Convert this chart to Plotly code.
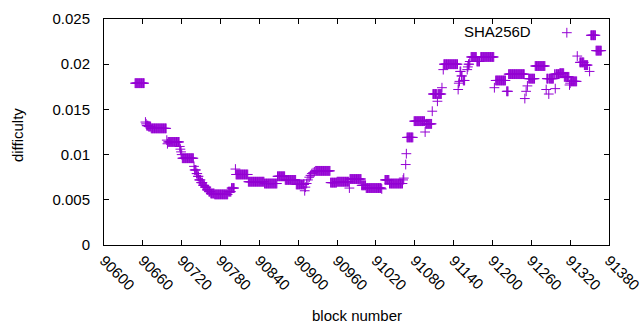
import plotly.graph_objects as go

# Runs of consecutive blocks sharing one difficulty value
run_start = [90648, 90664, 90665, 90666, 90669, 90673, 90697, 90698, 90699,
             90717, 90718, 90719, 90720, 90721, 90739, 90740, 90743, 90745,
             90747, 90750, 90753, 90756, 90759, 90762, 90765, 90771, 90792,
             90797, 90803, 90804, 90823, 90848, 90868, 90880, 90897, 90910,
             90911, 90913, 90915, 90917, 90919, 90921, 90923, 90925, 90927,
             90950, 90960, 90979, 90980, 90998, 91005, 91029, 91034, 91041,
             91062, 91063, 91066, 91067, 91068, 91079, 91096, 91097, 91107,
             91108, 91115, 91116, 91122, 91124, 91125, 91147, 91148, 91149,
             91150, 91152, 91155, 91161, 91162, 91163, 91165, 91167, 91176,
             91182, 91203, 91205, 91222, 91225, 91250, 91252, 91254, 91256,
             91266, 91283, 91284, 91287, 91288, 91296, 91297, 91298, 91304,
             91311, 91319, 91320, 91321, 91331, 91335, 91342, 91350, 91352,
             91360]
run_end = [90662, 90664, 90665, 90668, 90672, 90696, 90697, 90698, 90716,
           90717, 90718, 90719, 90720, 90738, 90739, 90742, 90744, 90746,
           90749, 90752, 90755, 90758, 90761, 90764, 90770, 90791, 90796,
           90801, 90803, 90822, 90847, 90867, 90879, 90896, 90909, 90910,
           90911, 90913, 90915, 90917, 90919, 90921, 90923, 90925, 90949,
           90959, 90978, 90979, 90997, 91004, 91028, 91029, 91040, 91061,
           91062, 91063, 91066, 91067, 91077, 91095, 91096, 91106, 91107,
           91114, 91115, 91121, 91122, 91124, 91146, 91147, 91148, 91149,
           91151, 91153, 91157, 91161, 91162, 91164, 91165, 91175, 91180,
           91202, 91203, 91220, 91224, 91249, 91250, 91252, 91254, 91265,
           91281, 91283, 91286, 91287, 91294, 91296, 91297, 91303, 91310,
           91318, 91319, 91320, 91330, 91331, 91341, 91347, 91350, 91359,
           91368]
run_diff = [0.0179, 0.0136, 0.0134, 0.0132, 0.0131, 0.0129, 0.0116, 0.0112, 0.0114,
            0.0109, 0.0106, 0.0103, 0.0100, 0.0096, 0.0087, 0.0083, 0.0079, 0.0076,
            0.0072, 0.0069, 0.0066, 0.0064, 0.0061, 0.0059, 0.0057, 0.0056, 0.0059,
            0.0063, 0.0084, 0.0078, 0.0070, 0.0068, 0.0076, 0.0072, 0.0067, 0.0060,
            0.0064, 0.0068, 0.0072, 0.0075, 0.0077, 0.0079, 0.0080, 0.0081, 0.0082,
            0.0069, 0.0070, 0.0063, 0.0073, 0.0066, 0.0063, 0.0062, 0.0072, 0.0068,
            0.0072, 0.0074, 0.0089, 0.0101, 0.0119, 0.0137, 0.0125, 0.0134, 0.0148,
            0.0167, 0.0159, 0.0167, 0.0174, 0.0194, 0.0200, 0.0172, 0.0179, 0.0181,
            0.0192, 0.0187, 0.0182, 0.0194, 0.0197, 0.0200, 0.0203, 0.0208, 0.0203,
            0.0208, 0.0174, 0.0182, 0.0170, 0.0189, 0.0162, 0.0170, 0.0176, 0.0184,
            0.0198, 0.0172, 0.0184, 0.0167, 0.0184, 0.0189, 0.0173, 0.0189, 0.0190,
            0.0186, 0.0177, 0.0179, 0.0181, 0.0209, 0.0202, 0.0199, 0.0192, 0.0232,
            0.0215]

x_ticks = list(range(90600, 91381, 60))
x_tick_labels = [str(v) for v in x_ticks]
y_ticks = [0, 0.005, 0.01, 0.015, 0.02, 0.025]
y_tick_labels = ["0", "0.005", "0.01", "0.015", "0.02", "0.025"]
series_name = "SHA256D"

blocks, diffs = [], []
for s, e, d in zip(run_start, run_end, run_diff):
    for b in range(s, e + 1):
        blocks.append(b)
        diffs.append(d)

COLOR = "#9400d3"
FONT = "Liberation Sans, Arial, sans-serif"
FS = 15

L, R, T, B = 104, 30.5, 19, 85
PW, PH = 640 - L - R, 330 - T - B

def px(xp):
    return (xp - L) / PW

def py(yp):
    return (330 - B - yp) / PH

marker = dict(symbol="cross-thin", size=7, color=COLOR,
              line=dict(color=COLOR, width=1))

fig = go.Figure()
fig.add_trace(go.Scatter(x=blocks, y=diffs, mode="markers", marker=marker,
                         name=series_name, showlegend=False))
# key sample (gnuplot style: text then symbol)
fig.add_trace(go.Scatter(x=[px(567.3)], y=[py(32.7)], mode="markers", marker=marker,
                         xaxis="x2", yaxis="y2", showlegend=False, hoverinfo="skip"))

fig.update_layout(
    width=640, height=330, autosize=False,
    margin=dict(l=L, r=R, t=T, b=B, pad=0),
    paper_bgcolor="white", plot_bgcolor="white",
    font=dict(family=FONT, size=FS, color="black"),
    showlegend=False,
    xaxis=dict(range=[90600, 91380], tickvals=x_ticks, ticktext=x_tick_labels,
               tickangle=45, ticks="inside", ticklen=5, tickcolor="black",
               showline=True, linecolor="black", linewidth=1, mirror="ticks",
               showgrid=False, zeroline=False, tickfont=dict(size=FS),
               automargin=False, ticklabeloverflow="allow"),
    yaxis=dict(range=[0, 0.025], tickvals=y_ticks, ticktext=y_tick_labels,
               ticks="inside", ticklen=5, tickcolor="black",
               showline=True, linecolor="black", linewidth=1, mirror="ticks",
               showgrid=False, zeroline=False, ticklabelstandoff=10,
               tickfont=dict(size=FS), automargin=False,
               ticklabeloverflow="allow"),
    xaxis2=dict(range=[0, 1], overlaying="x", visible=False, domain=[0, 1]),
    yaxis2=dict(range=[0, 1], overlaying="y", visible=False, domain=[0, 1]),
    annotations=[
        dict(text="block number", xref="paper", yref="paper", x=0.5, y=py(315),
             xanchor="center", yanchor="middle", showarrow=False,
             font=dict(size=FS)),
        dict(text="difficulty", xref="paper", yref="paper", x=px(17), y=py(135),
             xanchor="center", yanchor="middle", textangle=-90, showarrow=False,
             font=dict(size=FS)),
        dict(text=series_name, xref="paper", yref="paper", x=px(533), y=py(32),
             xanchor="right", yanchor="middle", showarrow=False,
             font=dict(size=FS)),
    ],
)

fig.write_html("out.html", config={"displayModeBar": False},
               post_script="document.body.style.margin='0';document.body.style.overflow='hidden';")
